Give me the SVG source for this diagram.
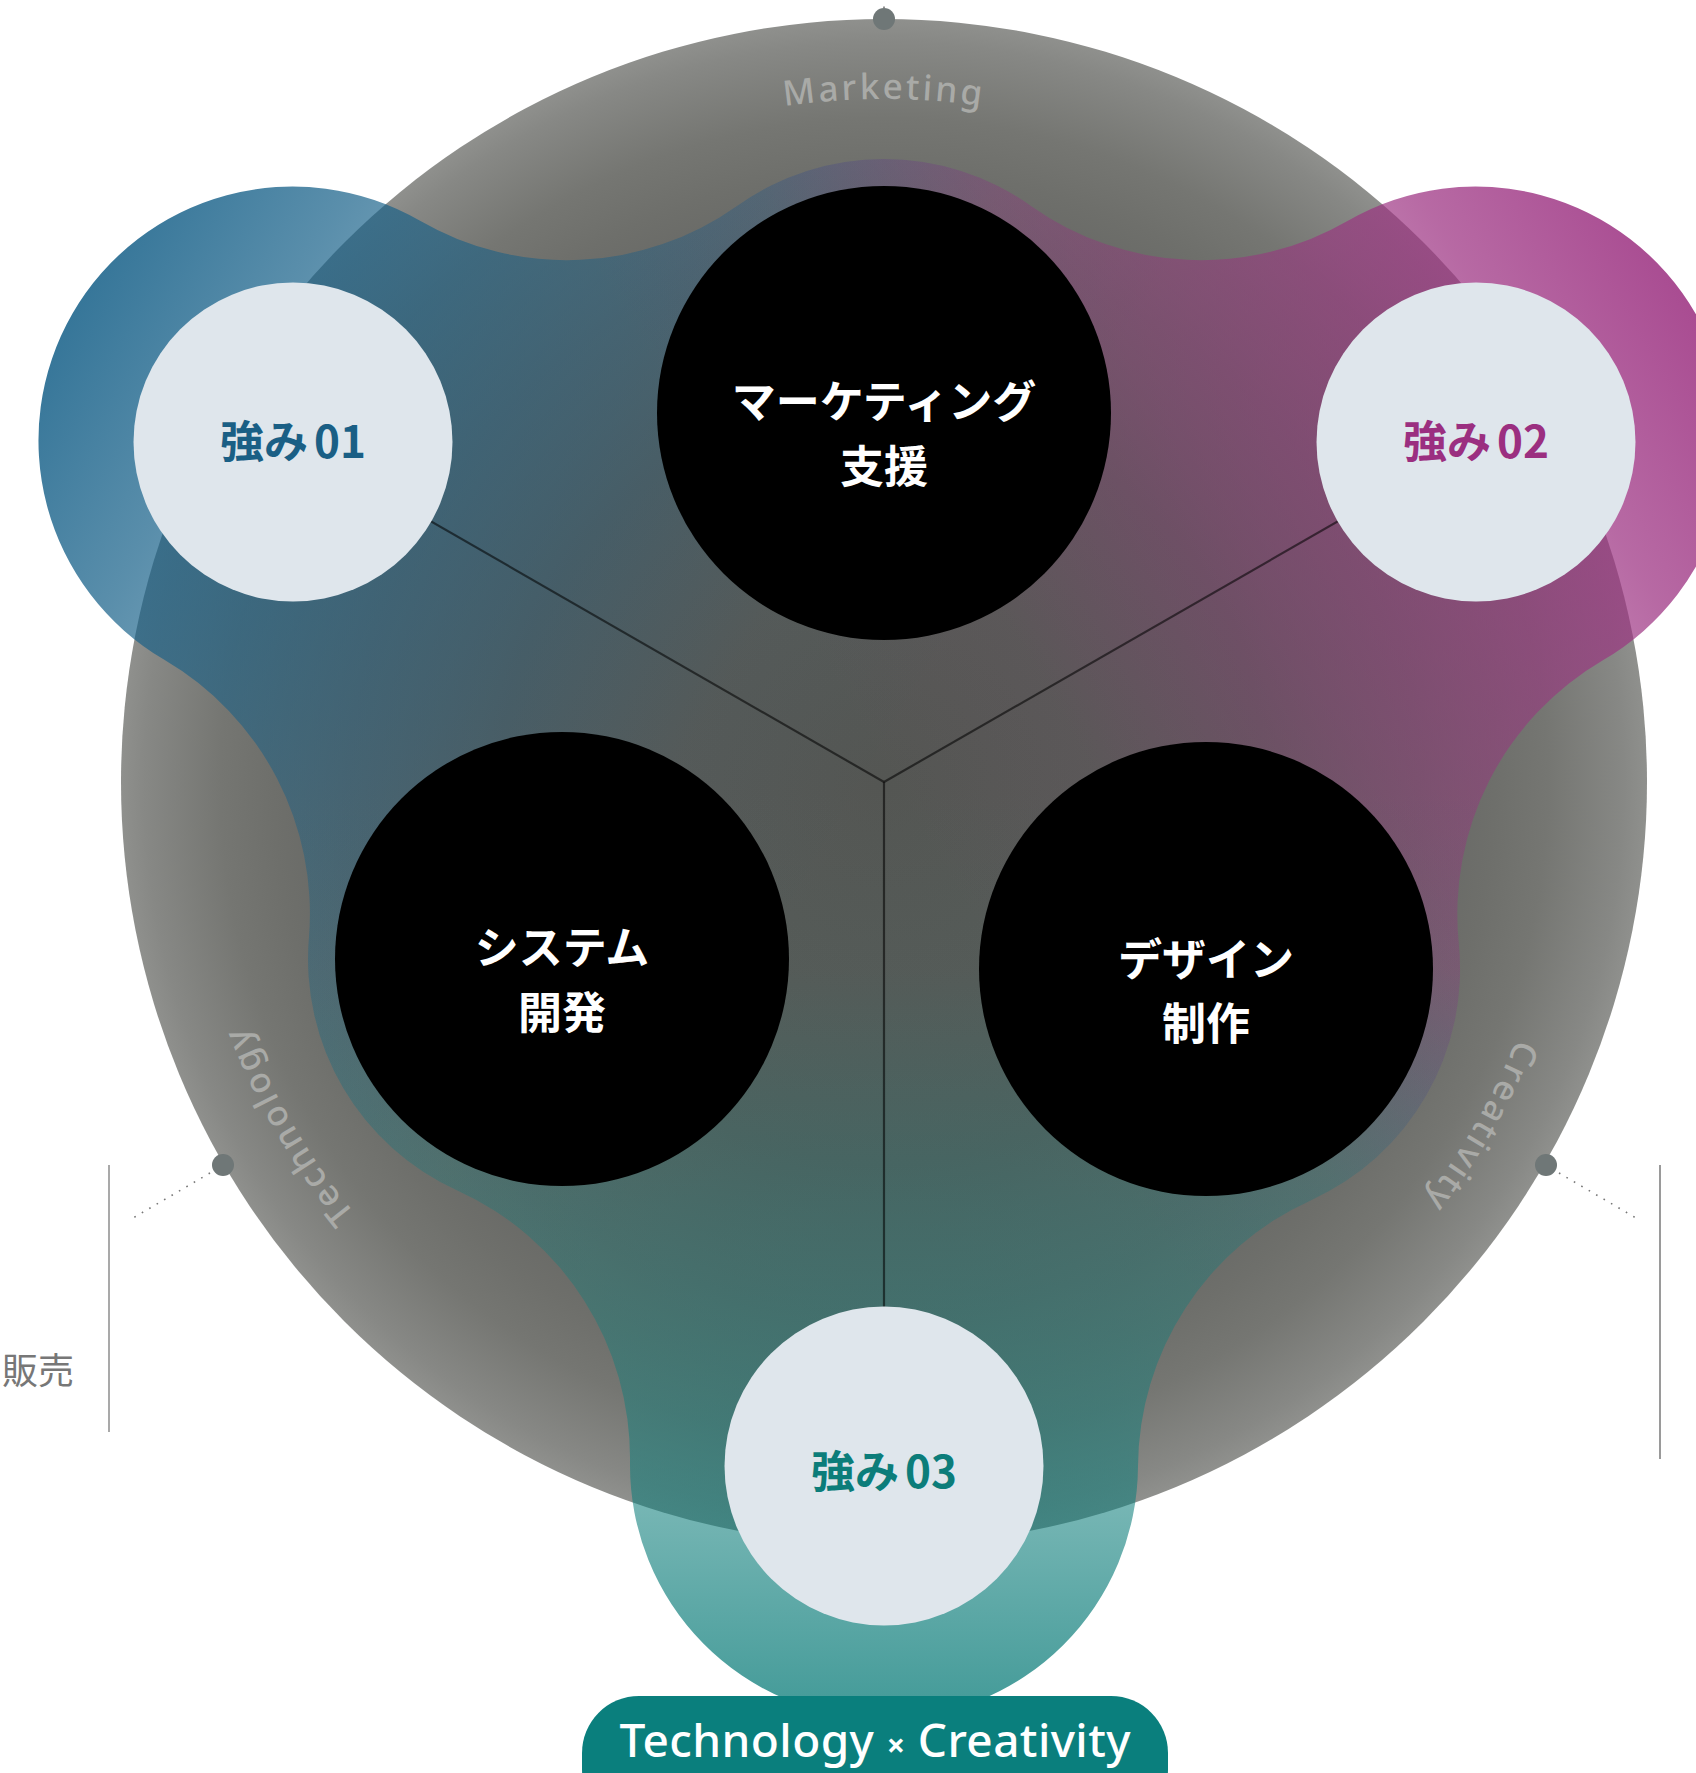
<svg xmlns="http://www.w3.org/2000/svg" xmlns:xlink="http://www.w3.org/1999/xlink" width="1696" height="1773" viewBox="0 0 1696 1773">
<defs>
<style>
.jp{font-family:"Noto Sans CJK JP","Noto Sans CJK SC",sans-serif;font-weight:700;}
.blk{fill:#000;}
.blktxt{fill:#fff;font-size:44px;text-anchor:middle;}
.str{fill:#dfe6ec;}
.strtxt{font-size:44px;text-anchor:middle;}
.ring{font-family:"Noto Sans","Open Sans",sans-serif;font-size:35px;font-weight:500;fill:#a9aaa7;letter-spacing:3px;}
.conn{stroke:#000;stroke-opacity:0.55;stroke-width:2.2;fill:none;}
.dot{fill:#6f7777;}
.dotted{stroke:#777;stroke-width:1.6;stroke-dasharray:1.6 7;fill:none;}
</style>
<radialGradient id="gGrey" gradientUnits="userSpaceOnUse" cx="884" cy="782" r="763">
<stop offset="0" stop-color="#545653"/>
<stop offset="0.5" stop-color="#5b5d5a"/>
<stop offset="0.7" stop-color="#666764"/>
<stop offset="0.8" stop-color="#6e6f6b"/>
<stop offset="0.87" stop-color="#757672"/>
<stop offset="0.97" stop-color="#878885"/>
<stop offset="1" stop-color="#8f908d"/>
</radialGradient>
<linearGradient id="gBlue" gradientUnits="userSpaceOnUse" x1="884" y1="782" x2="72.5" y2="313.5">
<stop offset="0" stop-color="#135e87" stop-opacity="0"/>
<stop offset="0.2" stop-color="#135e87" stop-opacity="0.05"/>
<stop offset="0.45" stop-color="#135e87" stop-opacity="0.35"/>
<stop offset="0.65" stop-color="#135e87" stop-opacity="0.55"/>
<stop offset="0.81" stop-color="#135e87" stop-opacity="0.7"/>
<stop offset="1" stop-color="#135e87" stop-opacity="0.85"/>
</linearGradient>
<linearGradient id="gPurple" gradientUnits="userSpaceOnUse" x1="884" y1="782" x2="1695.5" y2="313.5">
<stop offset="0" stop-color="#9b2f80" stop-opacity="0"/>
<stop offset="0.2" stop-color="#9b2f80" stop-opacity="0.05"/>
<stop offset="0.45" stop-color="#9b2f80" stop-opacity="0.35"/>
<stop offset="0.65" stop-color="#9b2f80" stop-opacity="0.55"/>
<stop offset="0.81" stop-color="#9b2f80" stop-opacity="0.72"/>
<stop offset="1" stop-color="#9b2f80" stop-opacity="0.86"/>
</linearGradient>
<linearGradient id="gTeal" gradientUnits="userSpaceOnUse" x1="884" y1="782" x2="884" y2="1719">
<stop offset="0" stop-color="#0c7d7a" stop-opacity="0"/>
<stop offset="0.2" stop-color="#0c7d7a" stop-opacity="0.04"/>
<stop offset="0.45" stop-color="#0c7d7a" stop-opacity="0.3"/>
<stop offset="0.65" stop-color="#0c7d7a" stop-opacity="0.45"/>
<stop offset="0.81" stop-color="#0c7d7a" stop-opacity="0.6"/>
<stop offset="1" stop-color="#0c7d7a" stop-opacity="0.78"/>
</linearGradient>
<path id="blob" d="M 419.6 220.6 A 294 294 0 0 0 737.0 205.9 A 254 254 0 0 1 1031.0 205.9 A 294 294 0 0 0 1348.4 220.6 A 254 254 0 0 1 1695.5 313.5 A 254 254 0 0 1 1603.3 660.0 A 294 294 0 0 0 1458.8 943.6 A 254 254 0 0 1 1310.7 1200.4 A 294 294 0 0 0 1138 1466.5 A 254 254 0 0 1 884 1719 A 254 254 0 0 1 630 1461.9 A 294 294 0 0 0 457.3 1190.4 A 254 254 0 0 1 308.9 938.0 A 294 294 0 0 0 164.3 659.8 A 254 254 0 0 1 72.5 313.5 A 254 254 0 0 1 419.6 220.6 Z"/>
<path id="arcTop" d="M 401 299 A 683 683 0 0 1 1367 299"/>
<path id="arcLeft" d="M 707.2 1441.7 A 683 683 0 0 1 224.3 605.2"/>
<path id="arcRight" d="M 1543.7 605.2 A 683 683 0 0 1 1060.8 1441.7"/>
</defs>

<g id="ring-circle">
<circle cx="884" cy="782" r="763" fill="url(#gGrey)"/>
</g>

<g id="strength-blob">
<use xlink:href="#blob" href="#blob" fill="url(#gBlue)"/>
<use xlink:href="#blob" href="#blob" fill="url(#gPurple)"/>
<use xlink:href="#blob" href="#blob" fill="url(#gTeal)"/>
</g>

<g id="connectors">
<line class="conn" x1="884" y1="782" x2="293" y2="442"/>
<line class="conn" x1="884" y1="782" x2="1476" y2="442"/>
<line class="conn" x1="884" y1="782" x2="884" y2="1466"/>
</g>

<g id="node-marketing">
<circle class="blk" cx="884" cy="413" r="227"/>
<text class="jp blktxt" x="884" y="418">マーケティング</text>
<text class="jp blktxt" x="884" y="483">支援</text>
</g>

<g id="node-system">
<circle class="blk" cx="562" cy="959" r="227"/>
<text class="jp blktxt" x="562" y="964">システム</text>
<text class="jp blktxt" x="562" y="1029">開発</text>
</g>

<g id="node-design">
<circle class="blk" cx="1206" cy="969" r="227"/>
<text class="jp blktxt" x="1206" y="976">デザイン</text>
<text class="jp blktxt" x="1206" y="1040">制作</text>
</g>

<g id="strength-01">
<circle class="str" cx="293" cy="442" r="159.5"/>
<text class="jp strtxt" x="293" y="458" fill="#1a5f85">強み<tspan dx="6">01</tspan></text>
</g>

<g id="strength-02">
<circle class="str" cx="1476" cy="442" r="159.5"/>
<text class="jp strtxt" x="1476" y="458" fill="#9b2f80">強み<tspan dx="6">02</tspan></text>
</g>

<g id="strength-03">
<circle class="str" cx="884" cy="1466" r="159.5"/>
<text class="jp strtxt" x="884" y="1488" fill="#0c7d7a">強み<tspan dx="6">03</tspan></text>
</g>

<g id="ring-labels">
<text class="ring"><textPath xlink:href="#arcTop" href="#arcTop" startOffset="50%" text-anchor="middle">Marketing</textPath></text>
<text class="ring"><textPath xlink:href="#arcLeft" href="#arcLeft" startOffset="50%" text-anchor="middle">Technology</textPath></text>
<text class="ring"><textPath xlink:href="#arcRight" href="#arcRight" startOffset="50%" text-anchor="middle">Creativity</textPath></text>
</g>

<g id="ring-markers">
<line class="dotted" x1="884" y1="8" x2="884" y2="-20"/>
<line class="dotted" x1="210" y1="1173" x2="133" y2="1218"/>
<line class="dotted" x1="1559" y1="1173" x2="1636" y2="1218"/>
<circle class="dot" cx="884" cy="19" r="11"/>
<circle class="dot" cx="223" cy="1165" r="11"/>
<circle class="dot" cx="1546" cy="1165" r="11"/>
</g>

<g id="side-left">
<line x1="109" y1="1165" x2="109" y2="1432" stroke="#8c8c8c" stroke-width="1.5"/>
<text x="74" y="1384" font-family="Noto Sans CJK JP, Noto Sans CJK SC, sans-serif" font-size="36" fill="#777" text-anchor="end">販売</text>
</g>

<g id="side-right">
<line x1="1660" y1="1165" x2="1660" y2="1459" stroke="#9a9a9a" stroke-width="2"/>
</g>

<g id="tagline">
<rect x="582" y="1696" width="586" height="130" rx="57" fill="#0a7f7d"/>
<text x="875" y="1757" font-family="Noto Sans, Open Sans, sans-serif" font-size="46" font-weight="500" fill="#fff" text-anchor="middle" textLength="511" lengthAdjust="spacing">Technology <tspan font-size="32" font-weight="700">×</tspan> Creativity</text>
</g>
</svg>
